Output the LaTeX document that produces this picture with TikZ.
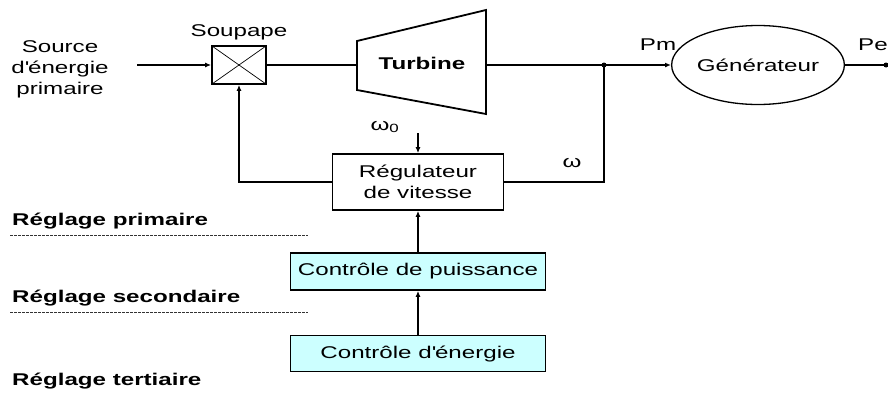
\documentclass[tikz,border=0pt]{standalone}
\usepackage{fontspec}
\setmainfont{Liberation Sans}[FakeStretch=1.42]
\usetikzlibrary{arrows.meta,shapes.geometric,calc}
\definecolor{boxcyan}{HTML}{CCFFFF}
\tikzset{
  lbl/.style={font=\fontsize{17}{21}\selectfont, inner sep=0pt, align=center},
  blbl/.style={lbl, font=\fontsize{17}{21}\selectfont\bfseries},
  blk/.style={draw, line width=1.7pt, inner sep=0pt, align=center, font=\fontsize{17}{21}\selectfont},
  ctrl/.style={blk, fill=boxcyan},
  wire/.style={line width=1.3pt},
  arr/.style={wire, -{Latex[length=6pt,width=5pt]}},
  dotc/.style={circle, fill=black, inner sep=0pt, minimum size=5pt},
  sep/.style={line width=0.8pt, dash pattern=on 2.5pt off 1.5pt, black!80}
}
\begin{document}
\begin{tikzpicture}[x=1pt,y=-1pt]
\useasboundingbox (0,0) rectangle (888,394);

% source
\node[lbl] (src) at (60,69) {Source\\d\textquotesingle énergie\\primaire};
\coordinate (srcend) at (137,65);

% valve
\node[blk, minimum width=54pt, minimum height=38pt,
  path picture={\draw[line width=0.7pt] (path picture bounding box.north west) -- (path picture bounding box.south east)
     (path picture bounding box.south west) -- (path picture bounding box.north east);}] (soup) at (239,65) {};
\node[lbl] (souplbl) at (239,32) {Soupape};

% turbine
\draw[line width=1.8pt, line join=miter] (357,41) -- (486,10) -- (486,114) -- (357,90) -- cycle;
\node[blbl] (turb) at (422,63) {Turbine};
\coordinate (tin) at (357,65);
\coordinate (tout) at (486,65);

% junction and generator
\node[dotc] (j) at (604,65) {};
\node[draw, ellipse, line width=1.3pt, minimum width=136pt, minimum height=79pt, inner sep=0pt,
  font=\fontsize{17}{21}\selectfont] (gen) at (758,65) {Générateur};
\node[lbl, anchor=center] (pm) at (658,45) {Pm};
\node[lbl, anchor=west] (pe) at (858,45) {Pe};
\node[dotc] (out) at (886,65) {};

% regulator
\node[blk, minimum width=171pt, minimum height=56pt] (reg) at (418,182) {Régulateur\\de vitesse};
\node[lbl] (w0) at (385,127) {ω\textsubscript{0}};
\coordinate (w0s) at (418,133);
\node[lbl] (w) at (572,163) {ω};

% control boxes
\node[ctrl, minimum width=255pt, minimum height=37pt] (puis) at (418,271.5) {Contrôle de puissance};
\node[ctrl, minimum width=255pt, minimum height=36pt] (ener) at (418,353.5) {Contrôle d\textquotesingle énergie};

% levels
\node[blbl, anchor=west] (r1) at (12,221) {Réglage primaire};
\node[blbl, anchor=west] (r2) at (12,298) {Réglage secondaire};
\node[blbl, anchor=west] (r3) at (12,381) {Réglage tertiaire};
\coordinate (d1a) at (10,235); \coordinate (d1b) at (308,235);
\coordinate (d2a) at (10,312); \coordinate (d2b) at (308,312);
\draw[sep] (d1a) -- (d1b);
\draw[sep] (d2a) -- (d2b);

% connectors
\draw[arr] (srcend) -- (soup.west);
\draw[wire] (soup.east) -- (tin);
\draw[wire] (tout) -- (j.center);
\draw[arr] (j.center) -- (gen.west);
\draw[wire] (gen.east) -- (out.center);
\draw[wire] (j.center) |- (reg.east);
\draw[arr] (reg.west) -| (soup.south);
\draw[arr] (w0s) -- (reg.north);
\draw[arr] (puis.north) -- (reg.south);
\draw[arr] (ener.north) -- (puis.south);
\end{tikzpicture}
\end{document}
